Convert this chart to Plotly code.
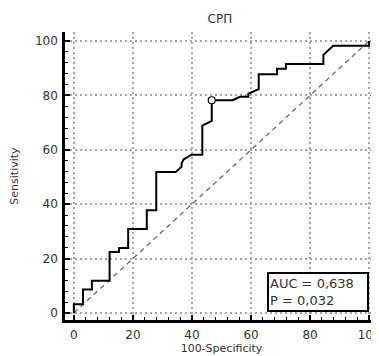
import plotly.graph_objects as go

# ROC curve points (100-Specificity, Sensitivity)
fpr = [0, 0, 3.1, 3.1, 6.1, 6.1, 12.1, 12.1, 15.3, 15.3, 18.4, 18.4, 24.7, 24.7,
       27.9, 27.9, 34.5, 36.5, 36.5, 37.2, 39.9, 43.5, 43.5, 46.7, 46.7, 53.7,
       56.3, 59.1, 59.1, 62.6, 62.6, 68.8, 68.8, 71.8, 71.8, 84.5, 84.5, 87.8,
       100, 100]
sens = [0, 3.2, 3.2, 8.6, 8.6, 11.8, 11.8, 22.4, 22.4, 23.9, 23.9, 30.9, 30.9, 37.8,
        37.8, 51.8, 51.8, 53.8, 55.0, 56.5, 58.2, 58.2, 68.9, 70.6, 78.2, 78.2,
        79.5, 79.5, 80.6, 82.3, 87.8, 87.8, 89.8, 89.8, 91.5, 91.5, 94.9, 98.2,
        98.2, 100]
# optimal criterion point
opt_x = [46.7]
opt_y = [78.2]
# reference diagonal
diag_x = [0, 100]
diag_y = [0, 100]

title_text = "СРП"
x_title = "100-Specificity"
y_title = "Sensitivity"
stats_text = "AUC = 0,638<br>P = 0,032"
tick_vals = [0, 20, 40, 60, 80, 100]

FONT = "DejaVu Sans, Liberation Sans, Arial, sans-serif"

fig = go.Figure()
fig.add_trace(go.Scatter(x=diag_x, y=diag_y, mode="lines",
                         line=dict(color="#6a6a6a", width=1.3, dash="5px,4px"),
                         hoverinfo="skip", showlegend=False))
fig.add_trace(go.Scatter(x=fpr, y=sens, mode="lines",
                         line=dict(color="black", width=2),
                         showlegend=False))
fig.add_trace(go.Scatter(x=opt_x, y=opt_y, mode="markers",
                         marker=dict(symbol="circle", size=7, color="white",
                                     line=dict(color="black", width=1.2)),
                         showlegend=False))

axis_common = dict(
    showline=True, linecolor="black", linewidth=2.5,
    ticks="inside", ticklen=5, tickwidth=1.5, tickcolor="black",
    tickvals=tick_vals,
    showgrid=True, gridcolor="#a6a6a6", gridwidth=1.5, griddash="2px,3px",
    zeroline=False, automargin=False, ticklabeloverflow="allow",
    ticklabelstandoff=2,
    minor=dict(ticks="inside", dtick=4, ticklen=3, tickwidth=1.2,
               tickcolor="black", showgrid=False),
    tickfont=dict(family=FONT, size=12, color="#333333"),
    mirror=False,
)

fig.update_xaxes(range=[-3, 103], **axis_common,
                 title=dict(text=x_title, font=dict(family=FONT, size=11, color="#333333"),
                            standoff=2))
fig.update_yaxes(range=[-2.6, 103.3], **axis_common,
                 title=dict(text=y_title, font=dict(family=FONT, size=11, color="#333333"),
                            standoff=20))

fig.add_annotation(x=65.3, y=0.5, xref="x", yref="y", xanchor="left", yanchor="bottom",
                   text=stats_text, showarrow=False, align="left",
                   font=dict(family=FONT, size=13, color="#333333"),
                   bgcolor="white", bordercolor="black", borderwidth=2, borderpad=1,
                   width=96, height=34)

# the page adds an 8px body margin, so the figure is laid out 8px up/left
fig.update_layout(
    width=379, height=356,
    margin=dict(l=57, r=9, t=24, b=44),
    paper_bgcolor="white", plot_bgcolor="white",
    title=dict(text=title_text, x=0.559, xanchor="center", y=1 - 11 / 356, yanchor="middle",
               font=dict(family=FONT, size=12, color="#333333")),
    showlegend=False,
)

fig.write_html("out.html")
